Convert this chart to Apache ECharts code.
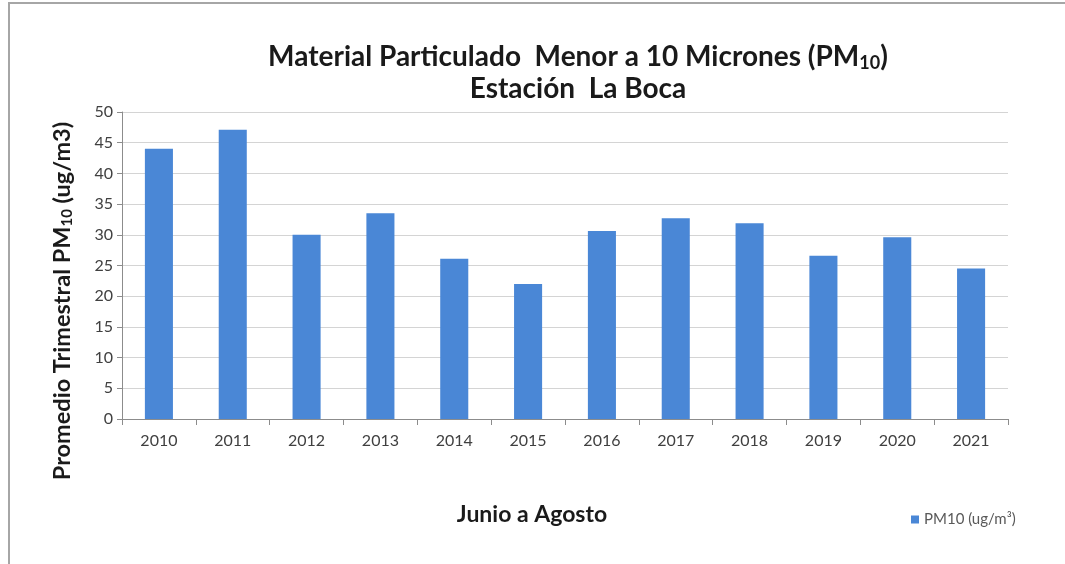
<!DOCTYPE html>
<html><head><meta charset="utf-8">
<script src="https://cdn.jsdelivr.net/npm/echarts@6/dist/echarts.min.js"></script>
<style>html,body{margin:0;padding:0;background:#fff}#c{width:1065px;height:564px}</style>
</head><body><div id="c"></div>
<script>
const years = ['2010','2011','2012','2013','2014','2015','2016','2017','2018','2019','2020','2021'];
const pm10 = [44.0, 47.1, 30.0, 33.5, 26.1, 22.0, 30.6, 32.7, 31.9, 26.6, 29.6, 24.5];
const seriesName = 'PM10 (ug/m³)';
const FONT = 'Lato';
const chart = echarts.init(document.getElementById('c'));
chart.setOption({
  animation: false,
  backgroundColor: '#fff',
  textStyle: {fontFamily: FONT},
  grid: {left: 122, right: 57, top: 112, bottom: 145, containLabel: false},
  xAxis: {
    type: 'category', data: years,
    axisLine: {lineStyle: {color: '#8c8c8c'}},
    axisTick: {show: true, alignWithLabel: false, length: 6, lineStyle: {color: '#8c8c8c'}},
    axisLabel: {color: '#404040', fontSize: 16, margin: 14, fontFamily: FONT}
  },
  yAxis: {
    type: 'value', min: 0, max: 50, interval: 5,
    axisLine: {show: true, lineStyle: {color: '#8c8c8c'}},
    axisTick: {show: true, length: 5, lineStyle: {color: '#8c8c8c'}},
    axisLabel: {color: '#404040', fontSize: 16, margin: 9, fontFamily: FONT},
    splitLine: {lineStyle: {color: '#d4d4d4'}}
  },
  legend: {
    data: [seriesName], left: 906, top: 507, itemWidth: 8, itemHeight: 8, itemGap: 4,
    icon: 'rect', textStyle: {color: '#595959', fontSize: 15, fontFamily: FONT}
  },
  series: [{
    name: seriesName, type: 'bar', data: pm10, barWidth: '38%',
    itemStyle: {color: '#4a87d6'}
  }],
  graphic: [
    {type: 'rect', shape: {x: 9, y: 3, width: 1060, height: 580}, style: {fill: 'none', stroke: '#a6a6a6', lineWidth: 2}, silent: true},
    {type: 'text', x: 578, y: 57, style: {
      text: '{t|Material Particulado  Menor a 10 Micrones (PM}{s|10}{t|)}', align: 'center', verticalAlign: 'middle',
      rich: {t: {fontSize: 28, fontWeight: 'bold', fill: '#1a1a1a', fontFamily: FONT}, s: {fontSize: 18, fontWeight: 'bold', fill: '#1a1a1a', fontFamily: FONT, padding: [13,0,0,0]}}
    }},
    {type: 'text', x: 578, y: 89, style: {text: 'Estación  La Boca', align: 'center', verticalAlign: 'middle', fontSize: 28, fontWeight: 'bold', fill: '#1a1a1a', fontFamily: FONT}},
    {type: 'text', x: 62, y: 301, rotation: Math.PI/2, style: {
      text: '{t|Promedio Trimestral PM}{s|10}{t| (ug/m3)}', align: 'center', verticalAlign: 'middle',
      rich: {t: {fontSize: 23.5, fontWeight: 'bold', fill: '#1a1a1a', fontFamily: FONT}, s: {fontSize: 15, fontWeight: 'bold', fill: '#1a1a1a', fontFamily: FONT, padding: [11,0,0,0]}}
    }},
    {type: 'text', x: 532, y: 515, style: {text: 'Junio a Agosto', align: 'center', verticalAlign: 'middle', fontSize: 23, fontWeight: 'bold', fill: '#1a1a1a', fontFamily: FONT}}
  ]
});
</script></body></html>
